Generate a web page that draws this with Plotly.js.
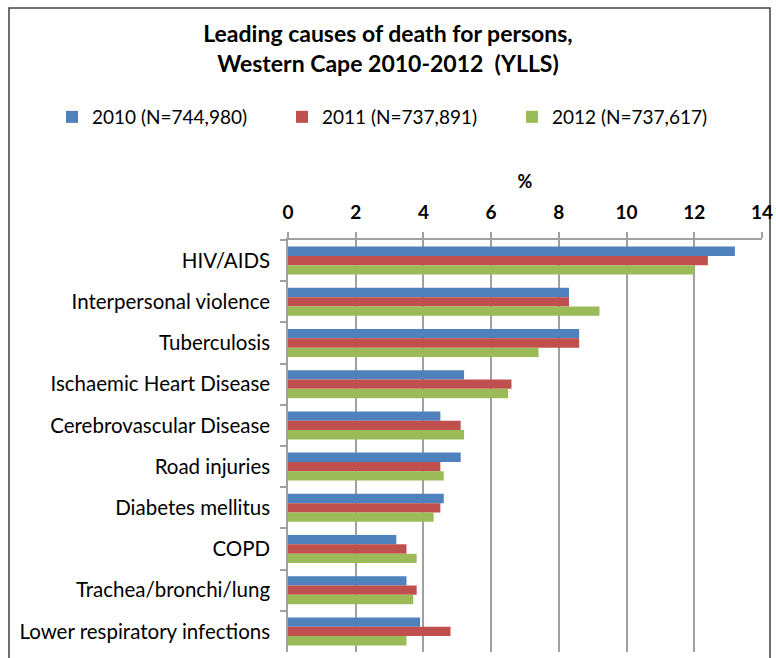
<!DOCTYPE html>
<html><head><meta charset="utf-8">
<script src="https://cdn.plot.ly/plotly-3.0.1.min.js"></script>
<style>html,body{margin:0;padding:0;background:#fff;}#chart{width:776px;height:658px;}</style>
</head><body><div id="chart"></div>
<script>
const causes = ["HIV/AIDS","Interpersonal violence","Tuberculosis","Ischaemic Heart Disease","Cerebrovascular Disease","Road injuries","Diabetes mellitus","COPD","Trachea/bronchi/lung","Lower respiratory infections"];
const v2010 = [13.2, 8.3, 8.6, 5.2, 4.5, 5.1, 4.6, 3.2, 3.5, 3.9];
const v2011 = [12.4, 8.3, 8.6, 6.6, 5.1, 4.5, 4.5, 3.5, 3.8, 4.8];
const v2012 = [12.0, 9.2, 7.4, 6.5, 5.2, 4.6, 4.3, 3.8, 3.7, 3.5];
const seriesNames = ["2010 (N=744,980)","2011 (N=737,891)","2012 (N=737,617)"];
const colors = ["#4F81BD","#C0504D","#9BBB59"];
const xTicks = [0,2,4,6,8,10,12,14];

const F = "Lato, 'Open Sans', sans-serif";
const series = [v2010, v2011, v2012];
const data = series.map((v,i)=>({
  type:'bar', orientation:'h', y:causes, x:v, name:seriesNames[i],
  marker:{color:colors[i]}, hoverinfo:'x+y'
}));

const L=288, R=762, T=240, B=652;
const pw=R-L, ph=B-T;
const px=(x)=>(x-L)/pw, py=(y)=>(B-y)/ph;

const layout = {
  width:776, height:658,
  margin:{l:L, r:776-R, t:T, b:658-B},
  paper_bgcolor:'#fff', plot_bgcolor:'#fff',
  barmode:'group', bargap:0.32, bargroupgap:0,
  title:{text:'<b>Leading causes of death for persons,<br>Western Cape 2010-2012  (YLLS)</b>',
    font:{family:F, size:23, color:'#000'}, x:388/776, xanchor:'center', y:1-42/658, yanchor:'middle', yref:'container'},
  showlegend:true,
  legend:{orientation:'h', xref:'paper', yref:'paper', x:px(52), xanchor:'left', y:py(117), yanchor:'middle',
    font:{family:F, size:19, color:'#000'}, traceorder:'normal', itemwidth:30, entrywidth:185, itemclick:false},
  xaxis:{side:'top', range:[0,14], tickvals:xTicks, ticktext:xTicks.map(String),
    showgrid:true, gridcolor:'#a0a0a0', gridwidth:1.5,
    showline:true, linecolor:'#a0a0a0', linewidth:1.5,
    ticks:'outside', ticklen:6, tickcolor:'#a0a0a0', tickwidth:1.5,
    tickfont:{family:F, size:19, color:'#000', weight:'bold'},
    ticklabelstandoff:6,
    zeroline:false, fixedrange:true,
    title:{text:'<b>%</b>', font:{family:F, size:18, color:'#000'}, standoff:6}},
  yaxis:{autorange:'reversed', type:'category',
    showline:true, linecolor:'#a0a0a0', linewidth:1.5,
    ticks:'outside', ticklen:6, tickcolor:'#a0a0a0', tickwidth:1.5, tickson:'boundaries',
    tickfont:{family:F, size:20.5, color:'#000'}, ticklabelstandoff:12,
    showgrid:false, zeroline:false, fixedrange:true},
  shapes:[
    {type:'rect', xref:'paper', yref:'paper', x0:px(9), x1:px(770), y0:py(700), y1:py(8),
     line:{color:'#404040', width:1.5}, fillcolor:'rgba(0,0,0,0)', layer:'below'}
  ]
};
Plotly.newPlot('chart', data, layout, {displayModeBar:false});
</script></body></html>
